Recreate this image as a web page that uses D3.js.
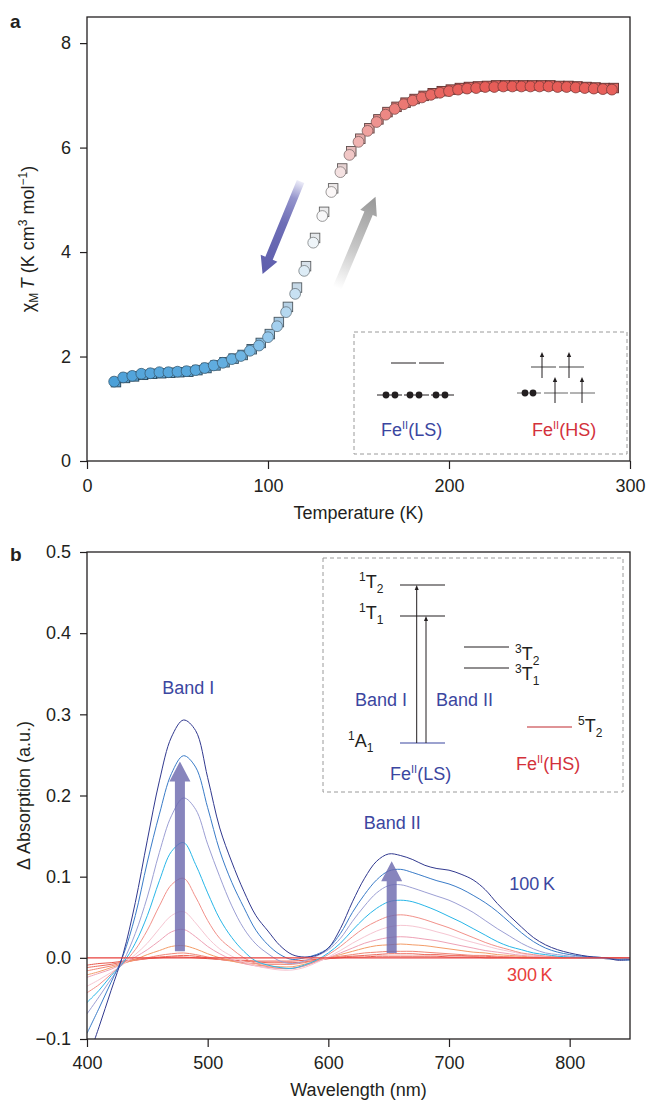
<!DOCTYPE html>
<html><head><meta charset="utf-8">
<script src="https://cdn.jsdelivr.net/npm/d3@7"></script>
<style>
body{margin:0;background:#fff}
svg{display:block}
text{font-family:"Liberation Sans",Arial,Helvetica,sans-serif}
</style>
</head><body><svg id="c" width="647" height="1102" fill="#231f20"></svg>
<script>
// ---------------- Panel a data ----------------
const tempCircle = [15,20,25,30,35,40,45,50,55,60,65,70,75,80,85,90,95,100,105,110,115,120,125,130,135,140,145,150,155,160,165,170,175,180,185,190,195,200,205,210,215,220,225,230,235,240,245,250,255,260,265,270,275,280,285,290];
const chiCircle = [1.52,1.60,1.63,1.67,1.68,1.70,1.70,1.71,1.72,1.74,1.78,1.83,1.88,1.95,2.01,2.11,2.21,2.37,2.58,2.85,3.20,3.64,4.18,4.69,5.15,5.53,5.86,6.11,6.32,6.49,6.63,6.74,6.83,6.90,6.96,7.01,7.05,7.08,7.11,7.13,7.14,7.16,7.16,7.17,7.17,7.17,7.17,7.17,7.17,7.16,7.16,7.15,7.14,7.13,7.12,7.11];
const tempSquare = [16,21,26,31,36,41,46,51,56,61,66,71,76,81,86,91,96,101,106,111,116,121,126,131,136,141,146,151,156,161,166,171,176,181,186,191,196,201,206,211,216,221,226,231,236,241,246,251,256,261,266,271,276,281,286,291];
const chiSquare = [1.51,1.59,1.62,1.65,1.67,1.68,1.69,1.70,1.71,1.74,1.78,1.83,1.89,1.96,2.03,2.14,2.26,2.43,2.66,2.95,3.32,3.73,4.27,4.77,5.22,5.60,5.93,6.17,6.37,6.54,6.68,6.78,6.86,6.93,6.99,7.04,7.08,7.11,7.14,7.16,7.17,7.18,7.19,7.19,7.19,7.19,7.19,7.19,7.19,7.18,7.18,7.17,7.16,7.15,7.14,7.14];
const xTicksA = [0,100,200,300];
const yTicksA = [0,2,4,6,8];

// ---------------- Panel b data ----------------
const wavelength = [400,410,420,430,440,450,460,470,480,490,500,510,520,530,540,550,560,570,580,590,600,610,620,630,640,650,660,670,680,690,700,710,720,730,740,750,760,770,780,790,800,810,820,830,840,850];
const dA100K = [-0.128,-0.085,-0.040,0.005,0.068,0.145,0.218,0.272,0.293, 0.280,0.222,0.160,0.118,0.082,0.052,0.033,0.015,0.004, 0.001,0.003,0.012,0.036,0.069,0.098,0.119,0.128,0.126, 0.121,0.114,0.110,0.108,0.103,0.096,0.084,0.067,0.052, 0.038,0.025,0.016,0.010,0.006,0.003,0.001,0.000,-0.003, -0.002];
const dA120K = [-0.093,-0.062,-0.030,0.003,0.052,0.118,0.177,0.227,0.249, 0.235,0.185,0.132,0.093,0.062,0.034,0.016,0.004,-0.002, 0.000,0.004,0.012,0.030,0.056,0.078,0.096,0.107,0.109, 0.105,0.100,0.095,0.091,0.085,0.077,0.068,0.057,0.044, 0.031,0.020,0.012,0.007,0.004,0.002,0.001,0.000,-0.002, -0.003];
const dA140K = [-0.069,-0.048,-0.026,-0.004,0.030,0.075,0.130,0.175,0.197, 0.183,0.140,0.100,0.064,0.036,0.017,0.005,-0.004,-0.007, -0.004,0.002,0.010,0.024,0.045,0.064,0.080,0.089,0.090, 0.086,0.081,0.076,0.071,0.064,0.056,0.046,0.036,0.027, 0.018,0.011,0.006,0.004,0.002,0.001,0.000,-0.001,-0.002, -0.001];
const dA160K = [-0.055,-0.040,-0.022,-0.006,0.018,0.052,0.095,0.131,0.142, 0.115,0.080,0.048,0.025,0.008,-0.004,-0.009,-0.012,-0.013, -0.009,-0.003,0.006,0.018,0.034,0.049,0.061,0.069,0.071, 0.069,0.064,0.058,0.051,0.044,0.036,0.028,0.020,0.014, 0.010,0.006,0.004,0.002,0.001,0.000,0.000,-0.001,-0.002, 0.000];
const dA180K = [-0.043,-0.033,-0.020,-0.007,0.010,0.034,0.064,0.090,0.098, 0.075,0.046,0.024,0.011,0.000,-0.007,-0.011,-0.013,-0.013, -0.010,-0.004,0.004,0.014,0.026,0.037,0.045,0.051,0.053, 0.051,0.047,0.042,0.037,0.031,0.025,0.019,0.014,0.010, 0.006,0.004,0.002,0.001,0.000,0.000,0.000,-0.001,-0.001, 0.000];
const dA200K = [-0.035,-0.027,-0.018,-0.008,0.004,0.018,0.036,0.052,0.057, 0.043,0.025,0.011,0.002,-0.005,-0.010,-0.013,-0.015,-0.015, -0.012,-0.006,0.001,0.009,0.018,0.026,0.033,0.038,0.040, 0.039,0.036,0.032,0.028,0.023,0.019,0.015,0.011,0.008, 0.005,0.003,0.002,0.001,0.000,0.000,0.000,-0.001,-0.001, 0.000];
const dA220K = [-0.024,-0.019,-0.014,-0.007,0.001,0.010,0.021,0.032,0.035, 0.026,0.014,0.005,-0.002,-0.007,-0.010,-0.012,-0.013,-0.013, -0.010,-0.005,0.000,0.006,0.012,0.018,0.022,0.025,0.026, 0.025,0.023,0.021,0.018,0.015,0.012,0.009,0.007,0.005, 0.003,0.002,0.001,0.000,0.000,0.000,0.000,-0.001,-0.001, 0.000];
const dA240K = [-0.021,-0.017,-0.012,-0.007,-0.002,0.004,0.009,0.014,0.015, 0.011,0.005,0.000,-0.004,-0.007,-0.009,-0.010,-0.011,-0.011, -0.008,-0.004,0.000,0.004,0.008,0.012,0.015,0.016,0.017, 0.016,0.015,0.013,0.011,0.009,0.007,0.006,0.004,0.003, 0.002,0.001,0.001,0.000,0.000,0.000,0.000,0.000,-0.001, 0.000];
const dA260K = [-0.016,-0.013,-0.010,-0.006,-0.003,0.000,0.003,0.005,0.006, 0.004,0.001,-0.002,-0.004,-0.006,-0.007,-0.008,-0.008,-0.008, -0.006,-0.003,0.000,0.002,0.004,0.006,0.007,0.008,0.008, 0.008,0.007,0.006,0.005,0.004,0.003,0.003,0.002,0.001, 0.001,0.000,0.000,0.000,0.000,0.000,0.000,0.000,0.000, 0.000];
const dA280K = [-0.012,-0.010,-0.008,-0.005,-0.003,-0.001,0.001,0.002,0.003, 0.002,0.000,-0.002,-0.003,-0.004,-0.005,-0.006,-0.006,-0.006, -0.005,-0.003,-0.001,0.001,0.002,0.003,0.004,0.005,0.005, 0.005,0.004,0.004,0.003,0.003,0.002,0.002,0.001,0.001, 0.000,0.000,0.000,0.000,0.000,0.000,0.000,0.000,0.000, 0.000];
const dA290K = [-0.009,-0.007,-0.006,-0.004,-0.002,-0.001,0.000,0.001,0.001, 0.000,-0.001,-0.002,-0.003,-0.003,-0.004,-0.004,-0.004,-0.004, -0.003,-0.002,-0.001,0.000,0.001,0.001,0.002,0.002,0.002, 0.002,0.002,0.002,0.001,0.001,0.001,0.000,0.000,0.000, 0.000,0.000,0.000,0.000,0.000,0.000,0.000,0.000,0.000, 0.000];
const wl300K = [400,850];
const dA300K = [0,0];
const xTicksB = [400,500,600,700,800];
const yTicksB = [-0.1,0.0,0.1,0.2,0.3,0.4,0.5];

const seriesB = [
  {name:"290 K", wl:wavelength, v:dA290K, color:"#e8584c"},
  {name:"280 K", wl:wavelength, v:dA280K, color:"#ec6a5c"},
  {name:"260 K", wl:wavelength, v:dA260K, color:"#f08676"},
  {name:"240 K", wl:wavelength, v:dA240K, color:"#f39c68"},
  {name:"220 K", wl:wavelength, v:dA220K, color:"#eea2b6"},
  {name:"200 K", wl:wavelength, v:dA200K, color:"#f6c6d2"},
  {name:"180 K", wl:wavelength, v:dA180K, color:"#f2918a"},
  {name:"160 K", wl:wavelength, v:dA160K, color:"#28b6e8"},
  {name:"140 K", wl:wavelength, v:dA140K, color:"#9c9fd4"},
  {name:"120 K", wl:wavelength, v:dA120K, color:"#3a7cc8"},
  {name:"100 K", wl:wavelength, v:dA100K, color:"#31398f"},
  {name:"300 K", wl:wl300K, v:dA300K, color:"#e8403c"}
];

// ---------------- Drawing ----------------
const svg = d3.select("#c");
const ink = "#231f20", navyTxt = "#3b46a0", redTxt = "#d3313b";
const L = 87, R = 630;

function styleAxis(g){
  g.select(".domain").remove();
  g.selectAll(".tick line").attr("stroke", ink).attr("stroke-width", 1.2);
  g.selectAll(".tick text").style("font-size","18px").style("fill", ink);
}
function arrowPts(x1,y1,x2,y2,sw,hw,hl){
  const dx=x2-x1, dy=y2-y1, len=Math.hypot(dx,dy), ux=dx/len, uy=dy/len, px=-uy, py=ux;
  const bx=x2-ux*hl, by=y2-uy*hl;
  return [[x1+px*sw/2,y1+py*sw/2],[bx+px*sw/2,by+py*sw/2],[bx+px*hw/2,by+py*hw/2],[x2,y2],
          [bx-px*hw/2,by-py*hw/2],[bx-px*sw/2,by-py*sw/2],[x1-px*sw/2,y1-py*sw/2]];
}
const defs = svg.append("defs");

// ===== Panel a =====
const xa = d3.scaleLinear().domain([0,300]).range([L,R]);
const ya = d3.scaleLinear().domain([0,8.5]).range([461,17]);

svg.append("text").attr("x",10).attr("y",28).style("font-size","19px").style("font-weight","bold").style("fill",ink).text("a");

const gxa = svg.append("g").attr("transform","translate(0,461)")
  .call(d3.axisBottom(xa).tickValues(xTicksA).tickSize(8).tickPadding(10).tickSizeOuter(0).tickFormat(d3.format("d")));
styleAxis(gxa);
const gya = svg.append("g").attr("transform",`translate(${L},0)`)
  .call(d3.axisLeft(ya).tickValues(yTicksA).tickSize(7).tickPadding(9).tickSizeOuter(0).tickFormat(d3.format("d")));
styleAxis(gya);

svg.append("text").attr("x",(L+R)/2).attr("y",519).attr("text-anchor","middle").style("font-size","18px").style("fill",ink).text("Temperature (K)");

const yla = svg.append("text").attr("transform",`translate(34,${(17+461)/2}) rotate(-90)`)
  .attr("text-anchor","middle").style("font-size","18px").style("fill",ink);
yla.append("tspan").text("χ");
yla.append("tspan").style("font-size","12px").attr("dy",4).text("M");
yla.append("tspan").attr("dy",-4).style("font-style","italic").text("\u2009T");
yla.append("tspan").text(" (K cm");
yla.append("tspan").style("font-size","12px").attr("dy",-7).text("3");
yla.append("tspan").attr("dy",7).text(" mol");
yla.append("tspan").style("font-size","12px").attr("dy",-7).text("−1");
yla.append("tspan").attr("dy",7).text(")");

// colour of markers by chi value
const chiColor = d3.scaleLinear()
  .domain([1.5,1.9,2.4,3.0,3.7,4.4,5.2,5.6,6.1,6.6,7.1])
  .range(["#4a9fd8","#64afe0","#98cbee","#bfdcf1","#e0edf7","#f6f8fa","#fbf7f7","#f2dcdc","#f0b4b2","#ed8a86","#e8625d"]);

// gradient arrows
const blueT = [xa(118), ya(5.35)], blueH = [xa(97), ya(3.58)];
const grayT = [xa(138.2), ya(3.31)], grayH = [xa(159.4), ya(5.06)];
const gb = defs.append("linearGradient").attr("id","gBlue").attr("gradientUnits","userSpaceOnUse")
  .attr("x1",blueT[0]).attr("y1",blueT[1]).attr("x2",blueH[0]).attr("y2",blueH[1]);
gb.append("stop").attr("offset",0).attr("stop-color","#ececf8");
gb.append("stop").attr("offset",0.18).attr("stop-color","#9494cc");
gb.append("stop").attr("offset",0.45).attr("stop-color","#6e6eb6");
gb.append("stop").attr("offset",1).attr("stop-color","#5d5dac");
const gg = defs.append("linearGradient").attr("id","gGray").attr("gradientUnits","userSpaceOnUse")
  .attr("x1",grayT[0]).attr("y1",grayT[1]).attr("x2",grayH[0]).attr("y2",grayH[1]);
gg.append("stop").attr("offset",0).attr("stop-color","#ffffff");
gg.append("stop").attr("offset",0.45).attr("stop-color","#c6c6c6");
gg.append("stop").attr("offset",1).attr("stop-color","#979797");
svg.append("polygon").attr("points",arrowPts(blueT[0],blueT[1],blueH[0],blueH[1],8,18,17).join(" ")).attr("fill","url(#gBlue)");
svg.append("polygon").attr("points",arrowPts(grayT[0],grayT[1],grayH[0],grayH[1],9,18,18).join(" ")).attr("fill","url(#gGray)");

// squares (behind) then circles
const sq = 9.5;
svg.append("g").selectAll("rect").data(tempSquare.map((t,i)=>({t,v:chiSquare[i]}))).join("rect")
  .attr("x",d=>xa(d.t)-sq/2).attr("y",d=>ya(d.v)-sq/2).attr("width",sq).attr("height",sq)
  .attr("fill",d=>d3.interpolateRgb(chiColor(d.v),"#8a8a8a")(0.12))
  .attr("stroke",d=>d3.interpolateRgb(chiColor(d.v),"#111")(0.65)).attr("stroke-width",0.9);
svg.append("g").selectAll("circle").data(tempCircle.map((t,i)=>({t,v:chiCircle[i]}))).join("circle")
  .attr("cx",d=>xa(d.t)).attr("cy",d=>ya(d.v)).attr("r",5.4)
  .attr("fill",d=>chiColor(d.v))
  .attr("stroke",d=>d3.interpolateRgb(chiColor(d.v),"#222")(0.55)).attr("stroke-width",0.8);

// frame a
svg.append("rect").attr("x",L).attr("y",17).attr("width",R-L).attr("height",461-17)
  .attr("fill","none").attr("stroke",ink).attr("stroke-width",1.3);

// inset a
const ia = svg.append("g");
ia.append("rect").attr("x",354).attr("y",332).attr("width",273).attr("height",122)
  .attr("fill","none").attr("stroke","#9a9a9a").attr("stroke-dasharray","4,3").attr("stroke-width",1);
[[391,416],[419,444]].forEach(s=>ia.append("line").attr("x1",s[0]).attr("x2",s[1]).attr("y1",363).attr("y2",363).attr("stroke",ink).attr("stroke-width",1));
[[377,402],[404,429],[431,454]].forEach(s=>ia.append("line").attr("x1",s[0]).attr("x2",s[1]).attr("y1",395).attr("y2",395).attr("stroke",ink).attr("stroke-width",1));
[386,395,410,419,436,445].forEach(x=>ia.append("circle").attr("cx",x).attr("cy",395).attr("r",3.4).attr("fill",ink));
[[531,556],[559,584]].forEach(s=>ia.append("line").attr("x1",s[0]).attr("x2",s[1]).attr("y1",367).attr("y2",367).attr("stroke","#444").attr("stroke-width",1));
[[517,541],[544,568],[570,595]].forEach(s=>ia.append("line").attr("x1",s[0]).attr("x2",s[1]).attr("y1",393).attr("y2",393).attr("stroke","#666").attr("stroke-width",1));
[525,533].forEach(x=>ia.append("circle").attr("cx",x).attr("cy",393).attr("r",3.4).attr("fill",ink));
function spinUp(g,x,y1,y2){
  g.append("line").attr("x1",x).attr("x2",x).attr("y1",y1).attr("y2",y2+4).attr("stroke",ink).attr("stroke-width",1);
  g.append("polygon").attr("points",`${x},${y2} ${x-2.2},${y2+5} ${x+2.2},${y2+5}`).attr("fill",ink);
}
spinUp(ia,542,378,352); spinUp(ia,569,378,352); spinUp(ia,555,403,377); spinUp(ia,582,403,377);
function feLabel(g,x,y,state,color){
  const t = g.append("text").attr("x",x).attr("y",y).style("font-size","18px").style("fill",color);
  t.append("tspan").text("Fe");
  t.append("tspan").style("font-size","11px").attr("dy",-7).text("II");
  t.append("tspan").attr("dy",7).text("("+state+")");
  return t;
}
feLabel(ia,381,436,"LS",navyTxt);
feLabel(ia,532,436,"HS",redTxt);

// ===== Panel b =====
const xb = d3.scaleLinear().domain([400,850]).range([L,R]);
const yb = d3.scaleLinear().domain([-0.1,0.5]).range([1039,552]);

svg.append("text").attr("x",10).attr("y",561).style("font-size","19px").style("font-weight","bold").style("fill",ink).text("b");

const gxb = svg.append("g").attr("transform","translate(0,1039)")
  .call(d3.axisBottom(xb).tickValues(xTicksB).tickSize(8).tickPadding(9).tickSizeOuter(0).tickFormat(d3.format("d")));
styleAxis(gxb);
const gyb = svg.append("g").attr("transform",`translate(${L},0)`)
  .call(d3.axisLeft(yb).tickValues(yTicksB).tickSize(7).tickPadding(9).tickSizeOuter(0).tickFormat(d3.format(".1f")));
styleAxis(gyb);

svg.append("text").attr("x",(L+R)/2).attr("y",1096).attr("text-anchor","middle").style("font-size","18px").style("fill",ink).text("Wavelength (nm)");
svg.append("text").attr("transform",`translate(30,${(552+1039)/2}) rotate(-90)`).attr("text-anchor","middle")
  .style("font-size","18px").style("fill",ink).text("Δ Absorption (a.u.)");

defs.append("clipPath").attr("id","clipB").append("rect").attr("x",L).attr("y",552).attr("width",R-L).attr("height",1039-552);
const line = d3.line().curve(d3.curveCatmullRom.alpha(0.5));
const gc = svg.append("g").attr("clip-path","url(#clipB)");
seriesB.forEach(s=>{
  gc.append("path").attr("d",line(s.wl.map((w,i)=>[xb(w),yb(s.v[i])])))
    .attr("fill","none").attr("stroke",s.color).attr("stroke-width",s.name==="300 K"?1.2:1);
});

// band arrows
function bandArrow(wl,v0,v1){
  svg.append("polygon").attr("points",arrowPts(xb(wl),yb(v0),xb(wl),yb(v1),10,21,20).join(" "))
    .attr("fill","#6d6aaf").attr("opacity",0.82);
}
bandArrow(477,0.008,0.242);
bandArrow(652.5,0.006,0.119);

// labels
svg.append("text").attr("x",xb(484)).attr("y",yb(0.325)).attr("text-anchor","middle").style("font-size","18px").style("fill",navyTxt).text("Band I");
svg.append("text").attr("x",xb(653)).attr("y",yb(0.159)).attr("text-anchor","middle").style("font-size","18px").style("fill",navyTxt).text("Band II");
svg.append("text").attr("x",xb(750)).attr("y",yb(0.084)).style("font-size","18px").style("fill",navyTxt).text("100\u2009K");
svg.append("text").attr("x",xb(748)).attr("y",yb(-0.028)).style("font-size","18px").style("fill","#e8403c").text("300\u2009K");

// frame b
svg.append("rect").attr("x",L).attr("y",552).attr("width",R-L).attr("height",1039-552)
  .attr("fill","none").attr("stroke",ink).attr("stroke-width",1.3);

// inset b
const ib = svg.append("g");
ib.append("rect").attr("x",323).attr("y",558).attr("width",300).attr("height",234)
  .attr("fill","none").attr("stroke","#9a9a9a").attr("stroke-dasharray","4,3").attr("stroke-width",1);
function lvl(x1,x2,y,c){ ib.append("line").attr("x1",x1).attr("x2",x2).attr("y1",y).attr("y2",y).attr("stroke",c).attr("stroke-width",1.1); }
lvl(400,445,585,ink); lvl(400,445,616,ink); lvl(464,509,647,ink); lvl(464,509,668,ink);
lvl(400,445,743,"#3b46a0"); lvl(527,572,727,"#c0282e");
function vArrow(x,y1,y2){
  ib.append("line").attr("x1",x).attr("x2",x).attr("y1",y1).attr("y2",y2+4).attr("stroke",ink).attr("stroke-width",1);
  ib.append("polygon").attr("points",`${x},${y2} ${x-2},${y2+5} ${x+2},${y2+5}`).attr("fill",ink);
}
vArrow(416.7,743,585); vArrow(426,743,616);
function term(x,y,sup,main,sub){
  const t = ib.append("text").attr("x",x).attr("y",y).style("font-size","18px").style("fill",ink);
  t.append("tspan").style("font-size","12px").attr("dy",-7).text(sup);
  t.append("tspan").attr("dy",7).text(main);
  t.append("tspan").style("font-size","12px").attr("dy",5).text(sub);
}
term(359,588,"1","T","2");
term(359,619,"1","T","1");
term(348,747,"1","A","1");
term(515,660,"3","T","2");
term(515,680,"3","T","1");
term(578,732,"5","T","2");
ib.append("text").attr("x",355).attr("y",706).style("font-size","18px").style("fill",navyTxt).text("Band I");
ib.append("text").attr("x",436).attr("y",706).style("font-size","18px").style("fill",navyTxt).text("Band II");
feLabel(ib,390,780,"LS",navyTxt);
feLabel(ib,516,770,"HS",redTxt);
</script></body></html>
